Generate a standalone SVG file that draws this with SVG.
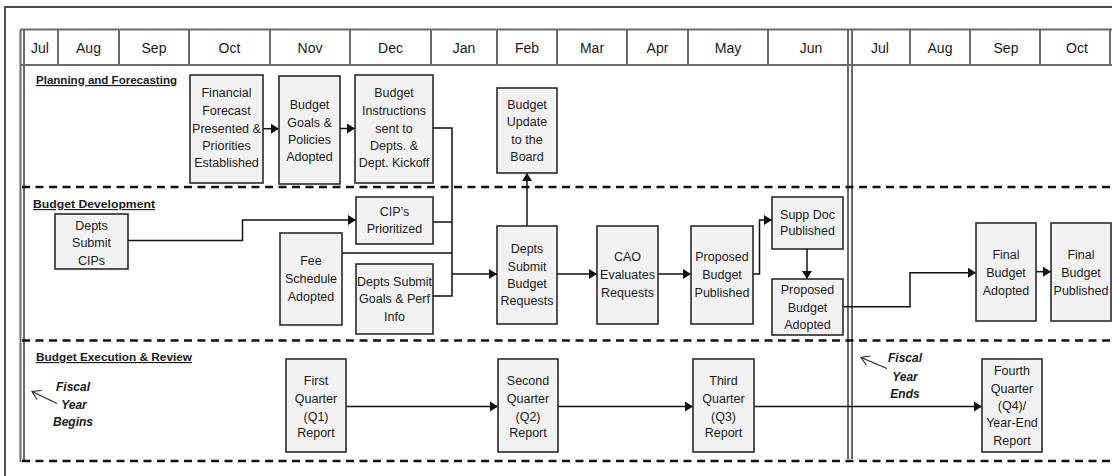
<svg xmlns="http://www.w3.org/2000/svg" width="1112" height="476" viewBox="0 0 1112 476">
<style>
  .frame{fill:none;stroke:#111;stroke-width:1.5}
  .grid{fill:none;stroke:#6a6a6a;stroke-width:2}
  .dash{fill:none;stroke:#111;stroke-width:2.6;stroke-dasharray:8 5.5}
  .month{font-family:"Liberation Sans",Arial,sans-serif;font-size:14px;fill:#1a1a1a;text-anchor:middle}
  .lane{font-family:"Liberation Sans",Arial,sans-serif;font-size:11.5px;font-weight:bold;fill:#1a1a1a;text-decoration:underline}
  .box{fill:#f2f2f2;stroke:#2a2a2a;stroke-width:1.6}
  .t{font-family:"Liberation Sans",Arial,sans-serif;font-size:12.5px;fill:#1a1a1a;text-anchor:middle}
  .note{font-family:"Liberation Sans",Arial,sans-serif;font-size:12px;font-weight:bold;font-style:italic;fill:#1a1a1a;text-anchor:middle}
  .c{fill:none;stroke:#111;stroke-width:1.5}
  .thin{fill:none;stroke:#222;stroke-width:1.1}
</style>
<defs>
  <marker id="ah" markerUnits="userSpaceOnUse" markerWidth="9" markerHeight="11" refX="8" refY="5.5" orient="auto">
    <path d="M0,0.5 L8,5.5 L0,10.5 z" fill="#111"/>
  </marker>
  <marker id="open" markerUnits="userSpaceOnUse" markerWidth="12" markerHeight="12" refX="10" refY="6" orient="auto">
    <path d="M2,1 L10,6 L2,11" fill="none" stroke="#222" stroke-width="1.1"/>
  </marker>
</defs>

<!-- frame and grid -->
<g id="frame">
  <path class="frame" d="M5,476 V7 H1112"/>
  <path class="grid" d="M20.5,29.5 H1112 M20.5,65 H1112"/>
  <path class="grid" d="M20.5,29.5 V462 M24,29.5 V462"/>
  <path class="grid" d="M58,29.5 V65 M119,29.5 V65 M189,29.5 V65 M270,29.5 V65 M350,29.5 V65 M431,29.5 V65 M497,29.5 V65 M557,29.5 V65 M627,29.5 V65 M688,29.5 V65 M768,29.5 V65 M910,29.5 V65 M970,29.5 V65 M1040,29.5 V65 M1110,29.5 V65"/>
  <path class="grid" d="M848,29.5 V459 M852,29.5 V459"/>
  <path class="dash" d="M22,187 H1112 M22,340.5 H1112 M22,461 H1112"/>
</g>

<g id="months">
  <text class="month" x="40" y="53">Jul</text>
  <text class="month" x="88.5" y="53">Aug</text>
  <text class="month" x="154" y="53">Sep</text>
  <text class="month" x="229.5" y="53">Oct</text>
  <text class="month" x="310" y="53">Nov</text>
  <text class="month" x="390.5" y="53">Dec</text>
  <text class="month" x="464" y="53">Jan</text>
  <text class="month" x="527" y="53">Feb</text>
  <text class="month" x="592" y="53">Mar</text>
  <text class="month" x="657.5" y="53">Apr</text>
  <text class="month" x="728" y="53">May</text>
  <text class="month" x="811" y="53">Jun</text>
  <text class="month" x="880" y="53">Jul</text>
  <text class="month" x="940" y="53">Aug</text>
  <text class="month" x="1006" y="53">Sep</text>
  <text class="month" x="1077" y="53">Oct</text>
</g>

<g id="lanes">
  <text class="lane" x="36" y="84" textLength="141" lengthAdjust="spacingAndGlyphs">Planning and Forecasting</text>
  <text class="lane" x="33" y="208" textLength="122" lengthAdjust="spacingAndGlyphs">Budget Development</text>
  <text class="lane" x="36" y="361" textLength="156" lengthAdjust="spacingAndGlyphs">Budget Execution &amp; Review</text>
</g>

<g id="connectors">
  <path class="c" d="M263,128.7 H279" marker-end="url(#ah)"/>
  <path class="c" d="M340,128.5 H355" marker-end="url(#ah)"/>
  <path class="c" d="M433,128 H452 V296 H433"/>
  <path class="c" d="M433,222 H452"/>
  <path class="c" d="M342,253 H452"/>
  <path class="c" d="M452,274 H497" marker-end="url(#ah)"/>
  <path class="c" d="M527,226 V173" marker-end="url(#ah)"/>
  <path class="c" d="M128,240.5 H242.5 V220 H356" marker-end="url(#ah)"/>
  <path class="c" d="M557,274 H597" marker-end="url(#ah)"/>
  <path class="c" d="M658,274 H691" marker-end="url(#ah)"/>
  <path class="c" d="M753,274 H759.5 V220 H772" marker-end="url(#ah)"/>
  <path class="c" d="M807,249 V279" marker-end="url(#ah)"/>
  <path class="c" d="M843,306.7 H910 V272.7 H976" marker-end="url(#ah)"/>
  <path class="c" d="M1036,271.7 H1051" marker-end="url(#ah)"/>
  <path class="c" d="M346,406.5 H498" marker-end="url(#ah)"/>
  <path class="c" d="M558,406.5 H693" marker-end="url(#ah)"/>
  <path class="c" d="M754,406.5 H982" marker-end="url(#ah)"/>
  <path class="thin" d="M57,403.5 L32,391.5" marker-end="url(#open)"/>
  <path class="thin" d="M887,368.5 L861,357.5" marker-end="url(#open)"/>
</g>

<g id="n_forecast">
  <rect class="box" x="190" y="75" width="73" height="108"/>
  <text class="t" x="226.5" y="97">Financial</text>
  <text class="t" x="226.5" y="115">Forecast</text>
  <text class="t" x="226.5" y="133">Presented &amp;</text>
  <text class="t" x="226.5" y="150">Priorities</text>
  <text class="t" x="226.5" y="167">Established</text>
</g>
<g id="n_goals">
  <rect class="box" x="279" y="76" width="61" height="108"/>
  <text class="t" x="309.5" y="108.5">Budget</text>
  <text class="t" x="309.5" y="126.5">Goals &amp;</text>
  <text class="t" x="309.5" y="144">Policies</text>
  <text class="t" x="309.5" y="160.5">Adopted</text>
</g>
<g id="n_instructions">
  <rect class="box" x="355" y="75" width="78" height="108"/>
  <text class="t" x="394" y="97">Budget</text>
  <text class="t" x="394" y="115">Instructions</text>
  <text class="t" x="394" y="133">sent to</text>
  <text class="t" x="394" y="150">Depts. &amp;</text>
  <text class="t" x="394" y="167">Dept. Kickoff</text>
</g>
<g id="n_update">
  <rect class="box" x="497" y="88" width="60" height="85"/>
  <text class="t" x="527" y="108.5">Budget</text>
  <text class="t" x="527" y="126">Update</text>
  <text class="t" x="527" y="143.5">to the</text>
  <text class="t" x="527" y="161">Board</text>
</g>
<g id="n_cips">
  <rect class="box" x="55" y="214" width="73" height="55"/>
  <text class="t" x="91.5" y="229.5">Depts</text>
  <text class="t" x="91.5" y="247">Submit</text>
  <text class="t" x="91.5" y="264.5">CIPs</text>
</g>
<g id="n_cipprio">
  <rect class="box" x="356" y="197" width="77" height="47"/>
  <text class="t" x="394.5" y="215.5">CIP’s</text>
  <text class="t" x="394.5" y="233">Prioritized</text>
</g>
<g id="n_fee">
  <rect class="box" x="280" y="233" width="62" height="92"/>
  <text class="t" x="311" y="264.5">Fee</text>
  <text class="t" x="311" y="282.5">Schedule</text>
  <text class="t" x="311" y="300.5">Adopted</text>
</g>
<g id="n_goalsperf">
  <rect class="box" x="356" y="264" width="77" height="70"/>
  <text class="t" x="394.5" y="286">Depts Submit</text>
  <text class="t" x="394.5" y="303">Goals &amp; Perf</text>
  <text class="t" x="394.5" y="321">Info</text>
</g>
<g id="n_requests">
  <rect class="box" x="497" y="226" width="60" height="98"/>
  <text class="t" x="527" y="253">Depts</text>
  <text class="t" x="527" y="270.5">Submit</text>
  <text class="t" x="527" y="288">Budget</text>
  <text class="t" x="527" y="305">Requests</text>
</g>
<g id="n_cao">
  <rect class="box" x="597" y="226" width="61" height="98"/>
  <text class="t" x="627.5" y="260.5">CAO</text>
  <text class="t" x="627.5" y="278.5">Evaluates</text>
  <text class="t" x="627.5" y="296.5">Requests</text>
</g>
<g id="n_proppub">
  <rect class="box" x="691" y="226" width="62" height="98"/>
  <text class="t" x="722" y="260.5">Proposed</text>
  <text class="t" x="722" y="278.5">Budget</text>
  <text class="t" x="722" y="296.5">Published</text>
</g>
<g id="n_supp">
  <rect class="box" x="772" y="197" width="71" height="52"/>
  <text class="t" x="807.5" y="218.5">Supp Doc</text>
  <text class="t" x="807.5" y="235">Published</text>
</g>
<g id="n_propadopt">
  <rect class="box" x="772" y="279" width="71" height="56"/>
  <text class="t" x="807.5" y="293.5">Proposed</text>
  <text class="t" x="807.5" y="311.5">Budget</text>
  <text class="t" x="807.5" y="329">Adopted</text>
</g>
<g id="n_finaladopt">
  <rect class="box" x="976" y="223" width="60" height="98"/>
  <text class="t" x="1006" y="259">Final</text>
  <text class="t" x="1006" y="277">Budget</text>
  <text class="t" x="1006" y="295">Adopted</text>
</g>
<g id="n_finalpub">
  <rect class="box" x="1051" y="223" width="60" height="98"/>
  <text class="t" x="1081" y="259">Final</text>
  <text class="t" x="1081" y="277">Budget</text>
  <text class="t" x="1081" y="295">Published</text>
</g>
<g id="n_q1">
  <rect class="box" x="286" y="359" width="60" height="93"/>
  <text class="t" x="316" y="384.5">First</text>
  <text class="t" x="316" y="402.5">Quarter</text>
  <text class="t" x="316" y="420.5">(Q1)</text>
  <text class="t" x="316" y="437">Report</text>
</g>
<g id="n_q2">
  <rect class="box" x="498" y="359" width="60" height="93"/>
  <text class="t" x="528" y="384.5">Second</text>
  <text class="t" x="528" y="402.5">Quarter</text>
  <text class="t" x="528" y="420.5">(Q2)</text>
  <text class="t" x="528" y="437">Report</text>
</g>
<g id="n_q3">
  <rect class="box" x="693" y="359" width="61" height="93"/>
  <text class="t" x="723.5" y="384.5">Third</text>
  <text class="t" x="723.5" y="402.5">Quarter</text>
  <text class="t" x="723.5" y="420.5">(Q3)</text>
  <text class="t" x="723.5" y="437">Report</text>
</g>
<g id="n_q4">
  <rect class="box" x="982" y="359" width="60" height="93"/>
  <text class="t" x="1012" y="375">Fourth</text>
  <text class="t" x="1012" y="393">Quarter</text>
  <text class="t" x="1012" y="410">(Q4)/</text>
  <text class="t" x="1012" y="427">Year-End</text>
  <text class="t" x="1012" y="444.5">Report</text>
</g>

<g id="notes">
  <text class="note" x="73" y="391">Fiscal</text>
  <text class="note" x="74" y="408.5">Year</text>
  <text class="note" x="73" y="426">Begins</text>
  <text class="note" x="905" y="362">Fiscal</text>
  <text class="note" x="905" y="380.5">Year</text>
  <text class="note" x="905" y="397.5">Ends</text>
</g>
</svg>
